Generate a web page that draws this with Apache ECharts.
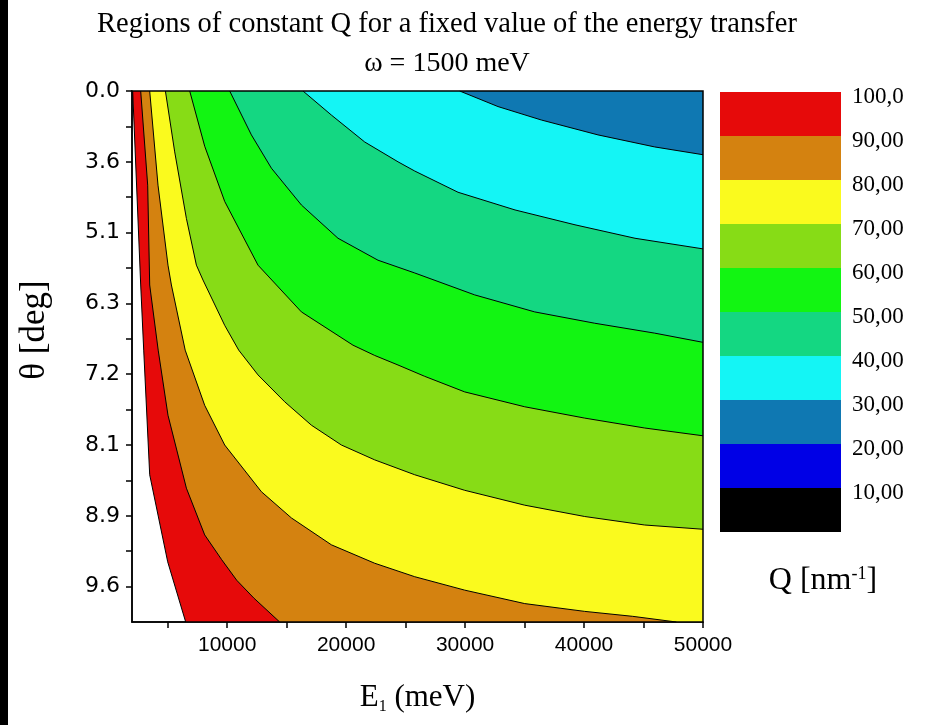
<!DOCTYPE html>
<html>
<head>
<meta charset="utf-8">
<script src="https://cdn.jsdelivr.net/npm/echarts@6/dist/echarts.min.js"></script>
</head>
<body style="margin:0;background:#fff">
<div id="c" style="width:925px;height:725px"></div>
<script>
// ---- data ----
// contour lines: [E1 (meV), theta-axis position (tick index, 0 = 0.0 deg)]
const q100 = [[2059,0],[2731,2.74],[2984,3.66],[3488,5.42],[5001,6.65],[6514,7.5]];
const q90 = [[2731,0],[3320,1.33],[3488,2.74],[4202,3.66],[5026,4.58],[6573,5.61],[8111,6.27],[9540,6.62],[10801,6.91],[12230,7.16],[14415,7.5]];
const q80 = [[3488,0],[4186,1.33],[5026,2.46],[5312,2.74],[6472,3.66],[8111,4.44],[9792,5.0],[12877,5.66],[15399,6.03],[18762,6.41],[22402,6.67],[25764,6.86],[29968,7.05],[35011,7.24],[40055,7.35],[44090,7.42],[47764,7.5]];
const q70 = [[4808,0],[5589,0.86],[6573,1.80],[7413,2.46],[7968,2.67],[9792,3.31],[10970,3.66],[12592,4.01],[14836,4.39],[17080,4.72],[19602,5.0],[22402,5.21],[25764,5.42],[29968,5.64],[35011,5.85],[40055,6.01],[45098,6.13],[50000,6.19]];
const q60 = [[6850,0],[8111,0.78],[9792,1.56],[12592,2.46],[16240,3.12],[20577,3.59],[22402,3.735],[24360,3.87],[26604,4.03],[29968,4.25],[35011,4.46],[40055,4.62],[45098,4.76],[50000,4.87]];
const q50 = [[10213,0],[12037,0.62],[13718,1.09],[16240,1.61],[19316,2.08],[22679,2.39],[25764,2.57],[30808,2.88],[35851,3.12],[40895,3.28],[45938,3.42],[50000,3.55]];
const q40 = [[16374,0],[18762,0.34],[21561,0.72],[24360,1.0],[25764,1.13],[29405,1.43],[34198,1.68],[39241,1.89],[44285,2.08],[50000,2.23]];
const q30 = [[29548,0],[32767,0.22],[36415,0.41],[41173,0.62],[45938,0.79],[50000,0.90]];

const levels = [100, 90, 80, 70, 60, 50, 40, 30];
const contours = [q100, q90, q80, q70, q60, q50, q40, q30];

// colour scale (bottom to top), each band 10 nm^-1 wide
const cbBands = [10, 10, 10, 10, 10, 10, 10, 10, 10, 10];
const cbColors = ['#000000','#0000E6','#0F78B2','#14F5F5','#14D782','#12F512','#87DC16','#FAFA1E','#D48210','#E60A0A'];
const cbTicks = [100, 90, 80, 70, 60, 50, 40, 30, 20, 10];
const cbLabels = ['100,0','90,00','80,00','70,00','60,00','50,00','40,00','30,00','20,00','10,00'];

// axes
const xTicks = [5000,10000,15000,20000,25000,30000,35000,40000,45000,50000];
const xLabels = [10000,20000,30000,40000,50000];
const yTicks = [0,0.5,1,1.5,2,2.5,3,3.5,4,4.5,5,5.5,6,6.5,7];
const yLabelPos = [0,1,2,3,4,5,6,7];
const thetaLabels = ['0.0','3.6','5.1','6.3','7.2','8.1','8.9','9.6'];
const X_MIN = 2000, X_MAX = 50000, Y_MAX = 7.5;

// fill colour of the band just below each contour level
function bandColor(level) {
  let acc = 0;
  for (let i = 0; i < cbBands.length; i++) {
    if (Math.abs(level - cbBands[i] - acc) < 0.001) return cbColors[i];
    acc += cbBands[i];
  }
  return '#fff';
}

function closedRegion(c) {
  const pts = c.slice();
  const last = c[c.length - 1];
  if (last[1] >= Y_MAX) pts.push([X_MAX, Y_MAX]);
  pts.push([X_MAX, 0]);
  return pts;
}

const chart = echarts.init(document.getElementById('c'), null, {renderer: 'canvas'});

const serif = 'Liberation Serif';
const series = [];

series.push({
  type: 'custom',
  xAxisIndex: 0, yAxisIndex: 0,
  silent: true,
  clip: true,
  data: levels.map((L, i) => [X_MIN, 0, i]),
  encode: {x: 0, y: 1},
  renderItem: function (params, api) {
    const i = params.dataIndex;
    const pts = closedRegion(contours[i]).map(p => api.coord(p));
    return {type: 'polygon', z2: i, shape: {points: pts}, style: {fill: bandColor(levels[i]), stroke: null}};
  },
  z: 1
});

contours.forEach(c => {
  series.push({
    type: 'line', xAxisIndex: 0, yAxisIndex: 0, data: c, showSymbol: false, symbol: 'none',
    silent: true, lineStyle: {color: '#000', width: 1}, z: 3, animation: false
  });
});

cbBands.forEach((v, i) => {
  series.push({
    type: 'bar', xAxisIndex: 1, yAxisIndex: 1, stack: 'cb', barWidth: '100%',
    data: [v], itemStyle: {color: cbColors[i]}, silent: true
  });
});

const option = {
  backgroundColor: '#fff',
  animation: false,
  grid: [
    {left: 132, top: 91, width: 571, height: 531, containLabel: false},
    {left: 720, top: 92, width: 121, height: 440, containLabel: false}
  ],
  xAxis: [
    {
      gridIndex: 0, type: 'value', min: X_MIN, max: X_MAX,
      axisLine: {show: true, onZero: false, lineStyle: {color: '#000', width: 1.5}},
      axisTick: {show: true, customValues: xTicks, length: 6, lineStyle: {color: '#000', width: 1.5}},
      axisLabel: {customValues: xLabels, formatter: v => String(v), fontFamily: 'Liberation Sans', fontSize: 21, color: '#000', margin: 13},
      splitLine: {show: false},
      name: '{a|E}{s|1}{a| (meV)}', nameLocation: 'middle', nameGap: 59,
      nameTextStyle: {
        rich: {
          a: {fontFamily: serif, fontSize: 31, color: '#000'},
          s: {fontFamily: serif, fontSize: 16, color: '#000', verticalAlign: 'bottom', padding: [18, 0, 0, 0]}
        }
      }
    },
    {gridIndex: 1, type: 'category', data: ['Q'], show: false}
  ],
  yAxis: [
    {
      gridIndex: 0, type: 'value', min: 0, max: Y_MAX, inverse: true,
      axisLine: {show: true, onZero: false, lineStyle: {color: '#000', width: 1.5}},
      axisTick: {show: true, customValues: yTicks, length: 6, lineStyle: {color: '#000', width: 1.5}},
      axisLabel: {customValues: yLabelPos, formatter: v => thetaLabels[Math.round(v)], fontFamily: 'DejaVu Sans', fontSize: 22, color: '#000', margin: 12},
      splitLine: {show: false}
    },
    {
      gridIndex: 1, type: 'value', min: 0, max: 100, position: 'right',
      axisLine: {show: false}, axisTick: {show: false}, splitLine: {show: false},
      axisLabel: {customValues: cbTicks, formatter: v => '{p|' + cbLabels[cbTicks.indexOf(v)] + '}', margin: 11,
        rich: {p: {fontFamily: serif, fontSize: 23, color: '#000', padding: [10, 0, 0, 0]}}}
    }
  ],
  graphic: [
    {type: 'rect', left: 0, top: 0, shape: {width: 8, height: 725}, style: {fill: '#000'}, z: 100},
    {type: 'rect', x: 132, y: 91, shape: {width: 571, height: 531}, style: {fill: null, stroke: '#000', lineWidth: 1.5}, z: 100, silent: true},
    {type: 'text', x: 447, y: 25, style: {text: 'Regions of constant Q for a fixed value of the energy transfer', fontFamily: serif, fontSize: 28.5, fill: '#000', textAlign: 'center', textVerticalAlign: 'middle'}, z: 100},
    {type: 'text', x: 447, y: 64, style: {text: 'ω = 1500 meV', fontFamily: serif, fontSize: 28, fill: '#000', textAlign: 'center', textVerticalAlign: 'middle'}, z: 100},
    {type: 'text', x: 35, y: 330, rotation: Math.PI / 2, style: {text: 'θ [deg]', fontFamily: serif, fontSize: 35, fill: '#000', textAlign: 'center', textVerticalAlign: 'middle'}, z: 100},
    {type: 'text', x: 823, y: 581, style: {
      text: '{a|Q [nm}{s|-1}{a|]}', textAlign: 'center', textVerticalAlign: 'middle',
      rich: {
        a: {fontFamily: serif, fontSize: 32, fill: '#000'},
        s: {fontFamily: serif, fontSize: 18, fill: '#000', verticalAlign: 'top'}
      }
    }, z: 100}
  ],
  series: series
};
chart.setOption(option);
</script>
</body>
</html>
